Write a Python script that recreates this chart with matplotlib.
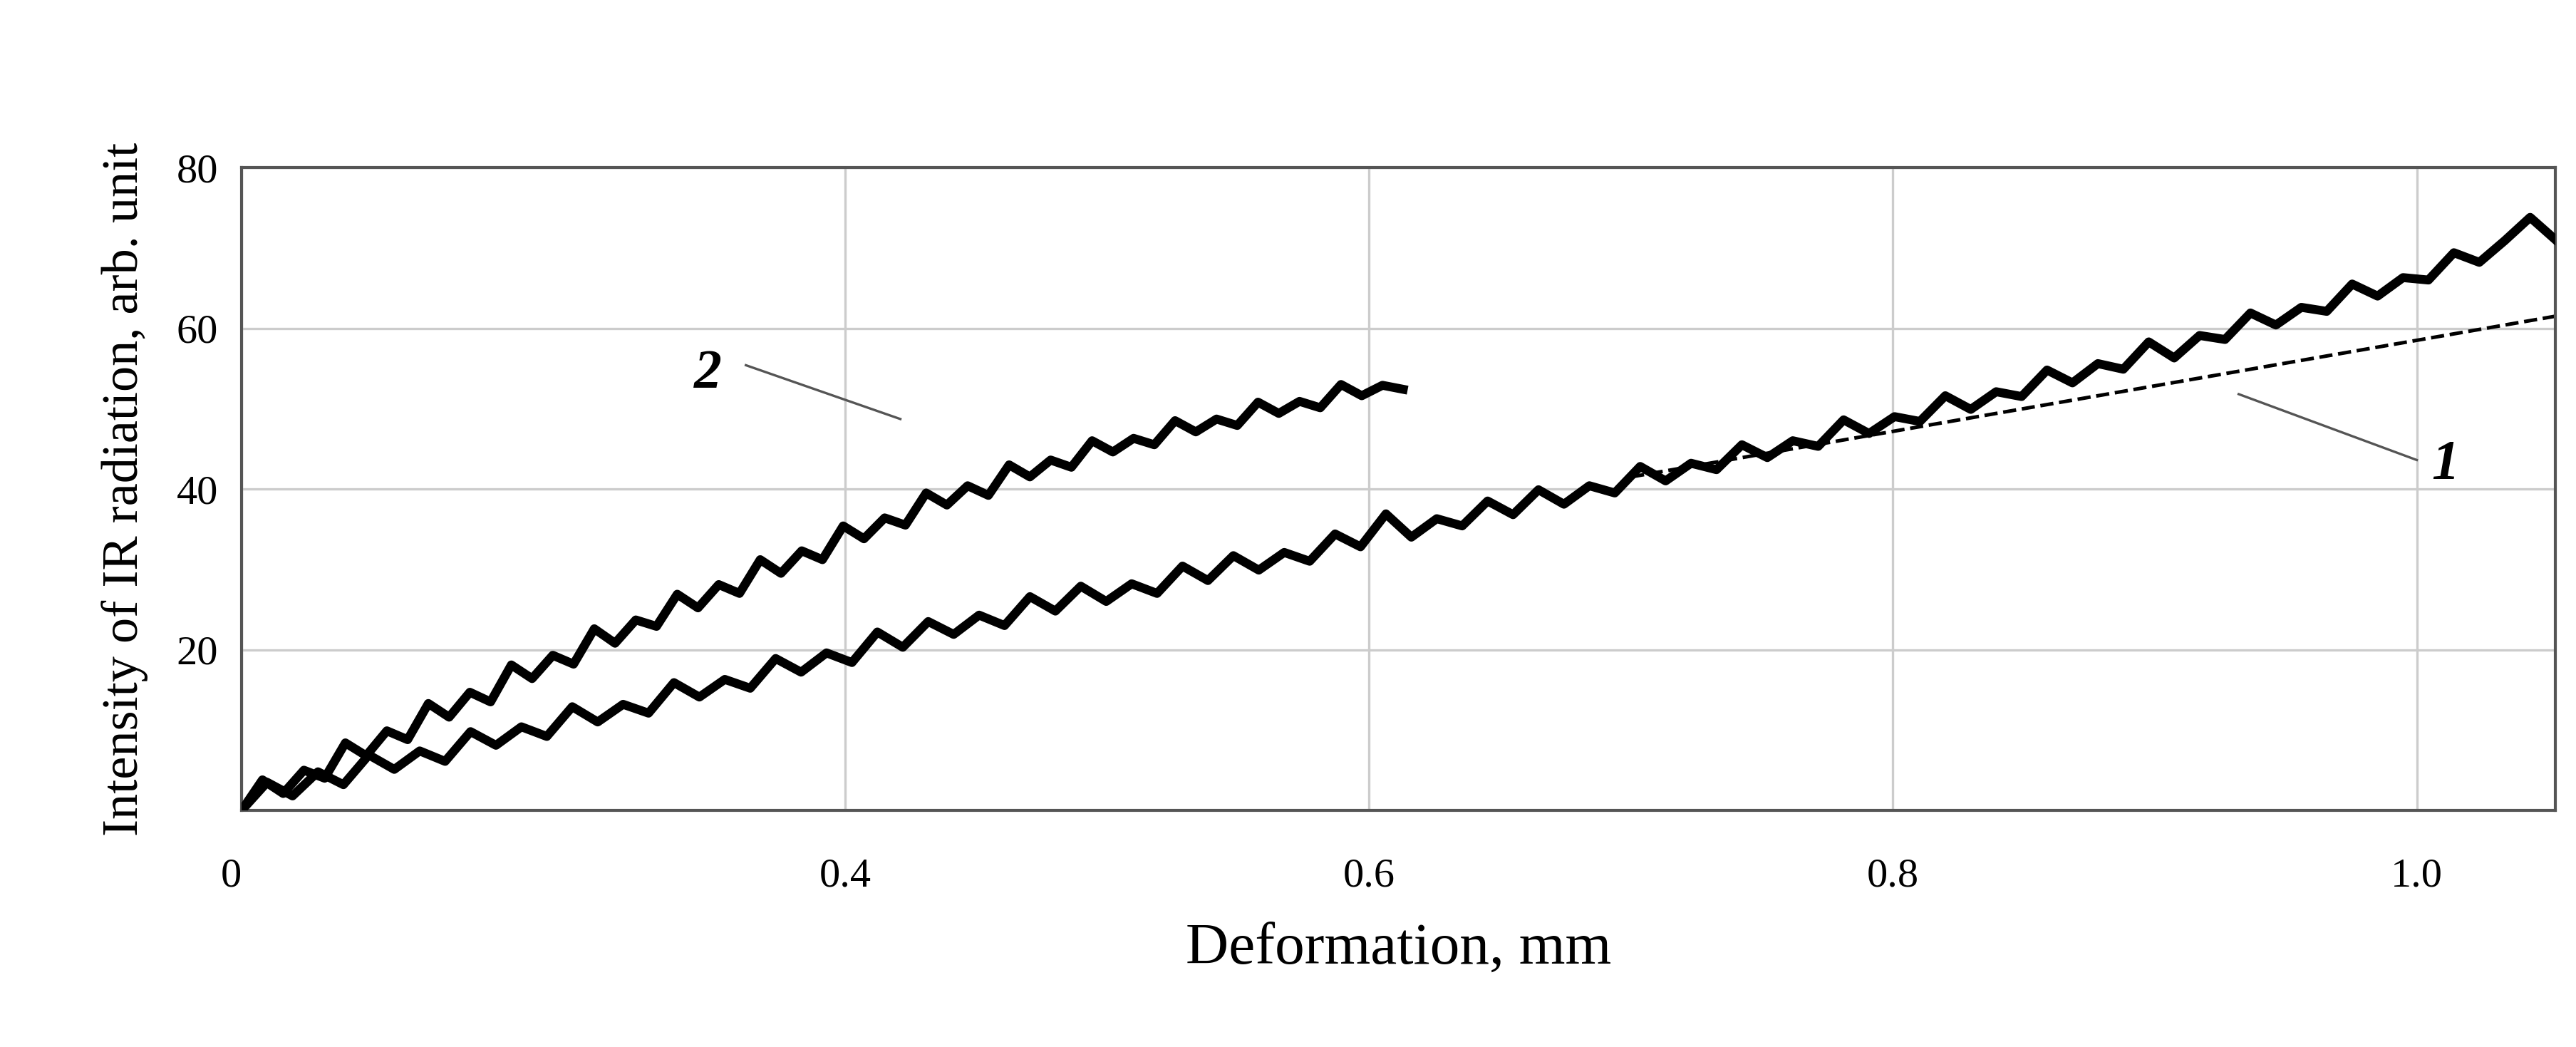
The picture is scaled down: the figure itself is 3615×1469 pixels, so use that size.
import matplotlib
matplotlib.use("Agg")
import matplotlib.pyplot as plt
import numpy as np

plt.rcParams['font.family'] = ['Liberation Serif', 'DejaVu Serif']

x_left, x_right = 0.1695, 1.053
tick_pos = [x_left, 0.4, 0.6, 0.8, 1.0]
tick_labels = ['0', '0.4', '0.6', '0.8', '1.0']
y_ticks = [20, 40, 60, 80]

# curve 1 (jagged)
y1 = [0, 3.5, 1.8, 4.8, 3.2, 6.9, 5.1, 7.4, 6.1, 9.8, 8.1, 10.4, 9.2, 12.9, 11.0, 13.2,
      12.1, 15.9, 14.1, 16.3, 15.2, 18.9, 17.2, 19.6, 18.4, 22.2, 20.3, 23.5, 21.9, 24.3,
      23.0, 26.6, 24.8, 27.9, 26.0, 28.2, 27.0, 30.4, 28.6, 31.7, 29.9, 32.1, 31.0, 34.4,
      32.8, 36.9, 34.0, 36.3, 35.4, 38.5, 36.8, 39.9, 38.1, 40.4, 39.5, 42.8, 41.0, 43.2,
      42.4, 45.5, 43.9, 46.0, 45.3, 48.6, 46.9, 49.0, 48.4, 51.6, 49.9, 52.1, 51.5, 54.8,
      53.2, 55.6, 54.9, 58.3, 56.3, 59.1, 58.6, 61.9, 60.4, 62.6, 62.1, 65.5, 64.0, 66.3,
      66.0, 69.4, 68.2, 70.9, 73.8, 71.0]
x1 = np.linspace(x_left, x_right, len(y1))

# curve 2
y2 = [0, 3.8, 2.1, 5.0, 4.0, 8.4, 6.8, 9.9, 8.8, 13.3, 11.6, 14.7, 13.5, 18.1, 16.4, 19.3,
      18.2, 22.6, 20.8, 23.7, 22.9, 26.9, 25.2, 28.1, 27.0, 31.2, 29.5, 32.3, 31.2, 35.4,
      33.8, 36.4, 35.5, 39.5, 38.0, 40.4, 39.2, 43.0, 41.5, 43.6, 42.7, 46.0, 44.6, 46.3,
      45.5, 48.5, 47.1, 48.7, 47.9, 50.8, 49.4, 50.9, 50.1, 53.0, 51.6, 52.9, 52.4]
x2 = np.linspace(x_left, 0.613, len(y2))

fit_x = [0.70, 1.053]
fit_y = [41.5, 61.5]

fig = plt.figure(figsize=(18.08, 7.345), dpi=200)
ax = fig.add_axes([0.0938, 0.226, 0.898, 0.614])
ax.plot(fit_x, fit_y, '--', color='black', lw=1.8, zorder=2)
ax.plot(x1, y1, color='black', lw=4.5, zorder=3)
ax.plot(x2, y2, color='black', lw=4.5, zorder=3)

ax.set_xlim(x_left, x_right)
ax.set_ylim(0, 80)
ax.set_xticks(tick_pos)
ax.set_xticklabels(tick_labels)
ax.set_yticks(y_ticks)
ax.grid(True, color='#cccccc', lw=1.2)
ax.tick_params(length=0, labelsize=21, pad=24)
ax.tick_params(axis='y', pad=12)
lab = ax.get_xticklabels()
lab[0].set_horizontalalignment('right')
for s in ax.spines.values():
    s.set_color('#555555'); s.set_linewidth(1.5)

ax.set_xlabel('Deformation, mm', fontsize=30, labelpad=14)
ax.set_ylabel('Intensity of IR radiation, arb. unit', fontsize=26, labelpad=14)

ax.text(0.3476, 54.2, '2', fontsize=28, fontweight='bold', style='italic', ha='center', va='center')
ax.plot([0.362, 0.421], [55.4, 48.7], color='#555555', lw=1.2)
ax.text(1.011, 43.0, '1', fontsize=28, fontweight='bold', style='italic', ha='center', va='center')
ax.plot([1.0, 0.932], [43.6, 51.8], color='#555555', lw=1.2)

fig.savefig('out.png', dpi=200)
